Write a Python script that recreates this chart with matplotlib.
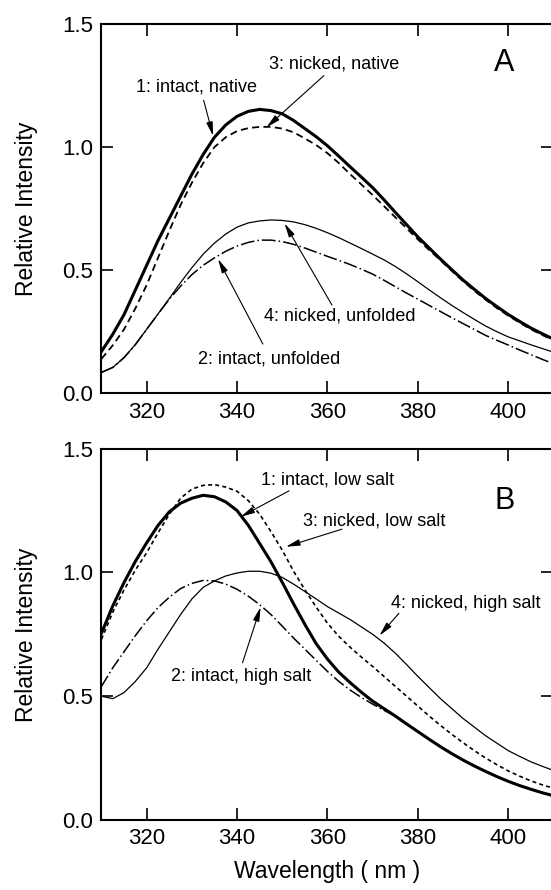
import numpy as np
import matplotlib
matplotlib.use('Agg')
import matplotlib.pyplot as plt

plt.rcParams['font.family'] = ['Liberation Sans', 'DejaVu Sans']

# wavelength grid (nm)
wavelength = [310, 312.5, 315, 317.5, 320, 322.5, 325, 327.5, 330, 332.5, 335,
              337.5, 340, 342.5, 345, 347.5, 350, 352.5, 355, 357.5, 360,
              362.5, 365, 367.5, 370, 372.5, 375, 377.5, 380, 382.5, 385,
              387.5, 390, 392.5, 395, 397.5, 400, 402.5, 405, 407.5, 410]

# Panel A: native / unfolded
a_intact_native = [0.17, 0.24, 0.32, 0.42, 0.52, 0.62, 0.71, 0.80, 0.89, 0.97, 1.04,
                   1.09, 1.125, 1.145, 1.153, 1.148, 1.135, 1.108, 1.075, 1.042, 1.005,
                   0.963, 0.92, 0.878, 0.835, 0.786, 0.735, 0.685, 0.635, 0.59, 0.545,
                   0.502, 0.46, 0.422, 0.385, 0.352, 0.32, 0.292, 0.265, 0.242, 0.22]
a_nicked_native = [0.14, 0.195, 0.26, 0.345, 0.44, 0.55, 0.66, 0.765, 0.855, 0.935, 1.0,
                   1.04, 1.065, 1.077, 1.082, 1.082, 1.075, 1.06, 1.035, 1.008, 0.975,
                   0.935, 0.89, 0.848, 0.805, 0.76, 0.715, 0.67, 0.625, 0.582, 0.54,
                   0.497, 0.455, 0.416, 0.38, 0.346, 0.315, 0.287, 0.26, 0.237, 0.215]
a_nicked_unfolded = [0.085, 0.105, 0.145, 0.198, 0.26, 0.322, 0.385, 0.45, 0.51, 0.565, 0.61,
                     0.647, 0.675, 0.692, 0.70, 0.704, 0.702, 0.696, 0.685, 0.67, 0.652,
                     0.632, 0.61, 0.588, 0.565, 0.542, 0.515, 0.485, 0.453, 0.42, 0.388,
                     0.357, 0.328, 0.30, 0.273, 0.25, 0.229, 0.213, 0.197, 0.182, 0.167]
a_intact_unfolded = [0.085, 0.105, 0.145, 0.198, 0.26, 0.322, 0.382, 0.435, 0.482, 0.52, 0.55,
                     0.577, 0.598, 0.613, 0.622, 0.622, 0.616, 0.605, 0.59, 0.573, 0.556,
                     0.54, 0.523, 0.504, 0.484, 0.459, 0.433, 0.407, 0.382, 0.357, 0.332,
                     0.307, 0.283, 0.259, 0.235, 0.215, 0.196, 0.176, 0.157, 0.138, 0.12]

# Panel B: low / high salt
b_intact_low = [0.755, 0.865, 0.96, 1.045, 1.12, 1.19, 1.245, 1.28, 1.30, 1.312, 1.306,
                1.285, 1.25, 1.19, 1.117, 1.043, 0.96, 0.873, 0.79, 0.712, 0.65,
                0.597, 0.555, 0.516, 0.48, 0.45, 0.42, 0.388, 0.357, 0.326, 0.296,
                0.268, 0.242, 0.218, 0.196, 0.175, 0.156, 0.139, 0.124, 0.11, 0.098]
b_nicked_low = [0.73, 0.84, 0.93, 1.01, 1.08, 1.16, 1.235, 1.30, 1.337, 1.352, 1.355,
                1.345, 1.328, 1.29, 1.235, 1.165, 1.09, 1.005, 0.93, 0.86, 0.795,
                0.742, 0.698, 0.658, 0.62, 0.58, 0.54, 0.50, 0.46, 0.42, 0.382,
                0.346, 0.312, 0.28, 0.25, 0.223, 0.198, 0.177, 0.158, 0.142, 0.128]
b_nicked_high = [0.50, 0.49, 0.515, 0.56, 0.615, 0.69, 0.76, 0.83, 0.893, 0.94, 0.966,
                 0.986, 0.998, 1.005, 1.005, 0.997, 0.98, 0.953, 0.923, 0.893, 0.862,
                 0.836, 0.81, 0.78, 0.75, 0.715, 0.674, 0.628, 0.58, 0.535, 0.49,
                 0.45, 0.41, 0.375, 0.34, 0.31, 0.28, 0.257, 0.235, 0.217, 0.20]
b_intact_high = [0.54, 0.615, 0.68, 0.745, 0.805, 0.858, 0.90, 0.935, 0.956, 0.968, 0.966,
                 0.953, 0.932, 0.904, 0.87, 0.83, 0.783, 0.735, 0.69, 0.645, 0.60,
                 0.56, 0.525, 0.495, 0.468, 0.443, 0.42, 0.388, 0.357, 0.326, 0.296,
                 0.268, 0.242, 0.218, 0.196, 0.175, 0.156, 0.139, 0.124, 0.11, 0.098]

xticks = [320, 340, 360, 380, 400]
yticks = [0.0, 0.5, 1.0, 1.5]

fig = plt.figure(figsize=(5.51, 8.90), dpi=100)
axA = fig.add_axes([0.1842, 0.5581, 0.8203, 0.4150])
axB = fig.add_axes([0.1842, 0.0787, 0.8203, 0.4171])

arrow = dict(arrowstyle='-|>,head_length=0.7,head_width=0.16', color='black',
             lw=0.8, shrinkA=0, shrinkB=0, mutation_scale=12)


def style_axes(ax):
    ax.set_xlim(310, 410)
    ax.set_ylim(0, 1.5)
    ax.set_xticks(xticks)
    ax.set_yticks(yticks)
    ax.set_yticklabels(['%.1f' % v for v in yticks])
    ax.tick_params(direction='in', length=8.6, width=1.2, top=True, right=True,
                   labelsize=16, pad=6)
    for s in ax.spines.values():
        s.set_linewidth(1.5)
    ax.set_ylabel('Relative Intensity', fontsize=16.5)
    ax.yaxis.set_label_coords(-0.14, 0.5)


# Panel A
axA.plot(wavelength, a_intact_native, color='black', lw=2.2)
axA.plot(wavelength, a_nicked_native, color='black', lw=1.3, linestyle=(0, (3.9, 2.4)))
axA.plot(wavelength, a_nicked_unfolded, color='black', lw=0.9)
axA.plot(wavelength, a_intact_unfolded, color='black', lw=1.1, linestyle=(0, (9, 2, 1, 2)))
style_axes(axA)

axA.text(331.1, 1.244, '1: intact, native', fontsize=13, ha='center', va='center')
axA.annotate('', xy=(334.7, 1.045), xytext=(332.6, 1.19), arrowprops=arrow)
axA.text(361.4, 1.337, '3: nicked, native', fontsize=13, ha='center', va='center')
axA.annotate('', xy=(346.5, 1.08), xytext=(359.2, 1.29), arrowprops=arrow)
axA.text(362.7, 0.313, '4: nicked, unfolded', fontsize=13, ha='center', va='center')
axA.annotate('', xy=(350.5, 0.69), xytext=(361.0, 0.358), arrowprops=arrow)
axA.text(347.1, 0.138, '2: intact, unfolded', fontsize=13, ha='center', va='center')
axA.annotate('', xy=(335.8, 0.545), xytext=(345.7, 0.20), arrowprops=arrow)
axA.text(399, 1.34, 'A', fontsize=22, ha='center', va='center')

# Panel B
axB.plot(wavelength, b_intact_low, color='black', lw=2.2)
axB.plot(wavelength, b_nicked_low, color='black', lw=1.2, linestyle=(0, (2.4, 1.9)))
axB.plot(wavelength, b_nicked_high, color='black', lw=0.9)
axB.plot(wavelength, b_intact_high, color='black', lw=1.1, linestyle=(0, (8, 2, 1, 2)))
style_axes(axB)
axB.set_xlabel('Wavelength ( nm )', fontsize=16.5)
axB.xaxis.set_label_coords(0.5, -0.108)

axB.text(360.1, 1.375, '1: intact, low salt', fontsize=13, ha='center', va='center')
axB.annotate('', xy=(340.8, 1.225), xytext=(351.5, 1.33), arrowprops=arrow)
axB.text(370.3, 1.21, '3: nicked, low salt', fontsize=13, ha='center', va='center')
axB.annotate('', xy=(350.8, 1.104), xytext=(363.2, 1.175), arrowprops=arrow)
axB.text(390.7, 0.873, '4: nicked, high salt', fontsize=13, ha='center', va='center')
axB.annotate('', xy=(371.5, 0.745), xytext=(375.8, 0.835), arrowprops=arrow)
axB.text(340.9, 0.579, '2: intact, high salt', fontsize=13, ha='center', va='center')
axB.annotate('', xy=(345.2, 0.86), xytext=(341.2, 0.635), arrowprops=arrow)
axB.text(399.2, 1.29, 'B', fontsize=22, ha='center', va='center')

plt.savefig('out.png', dpi=100)
